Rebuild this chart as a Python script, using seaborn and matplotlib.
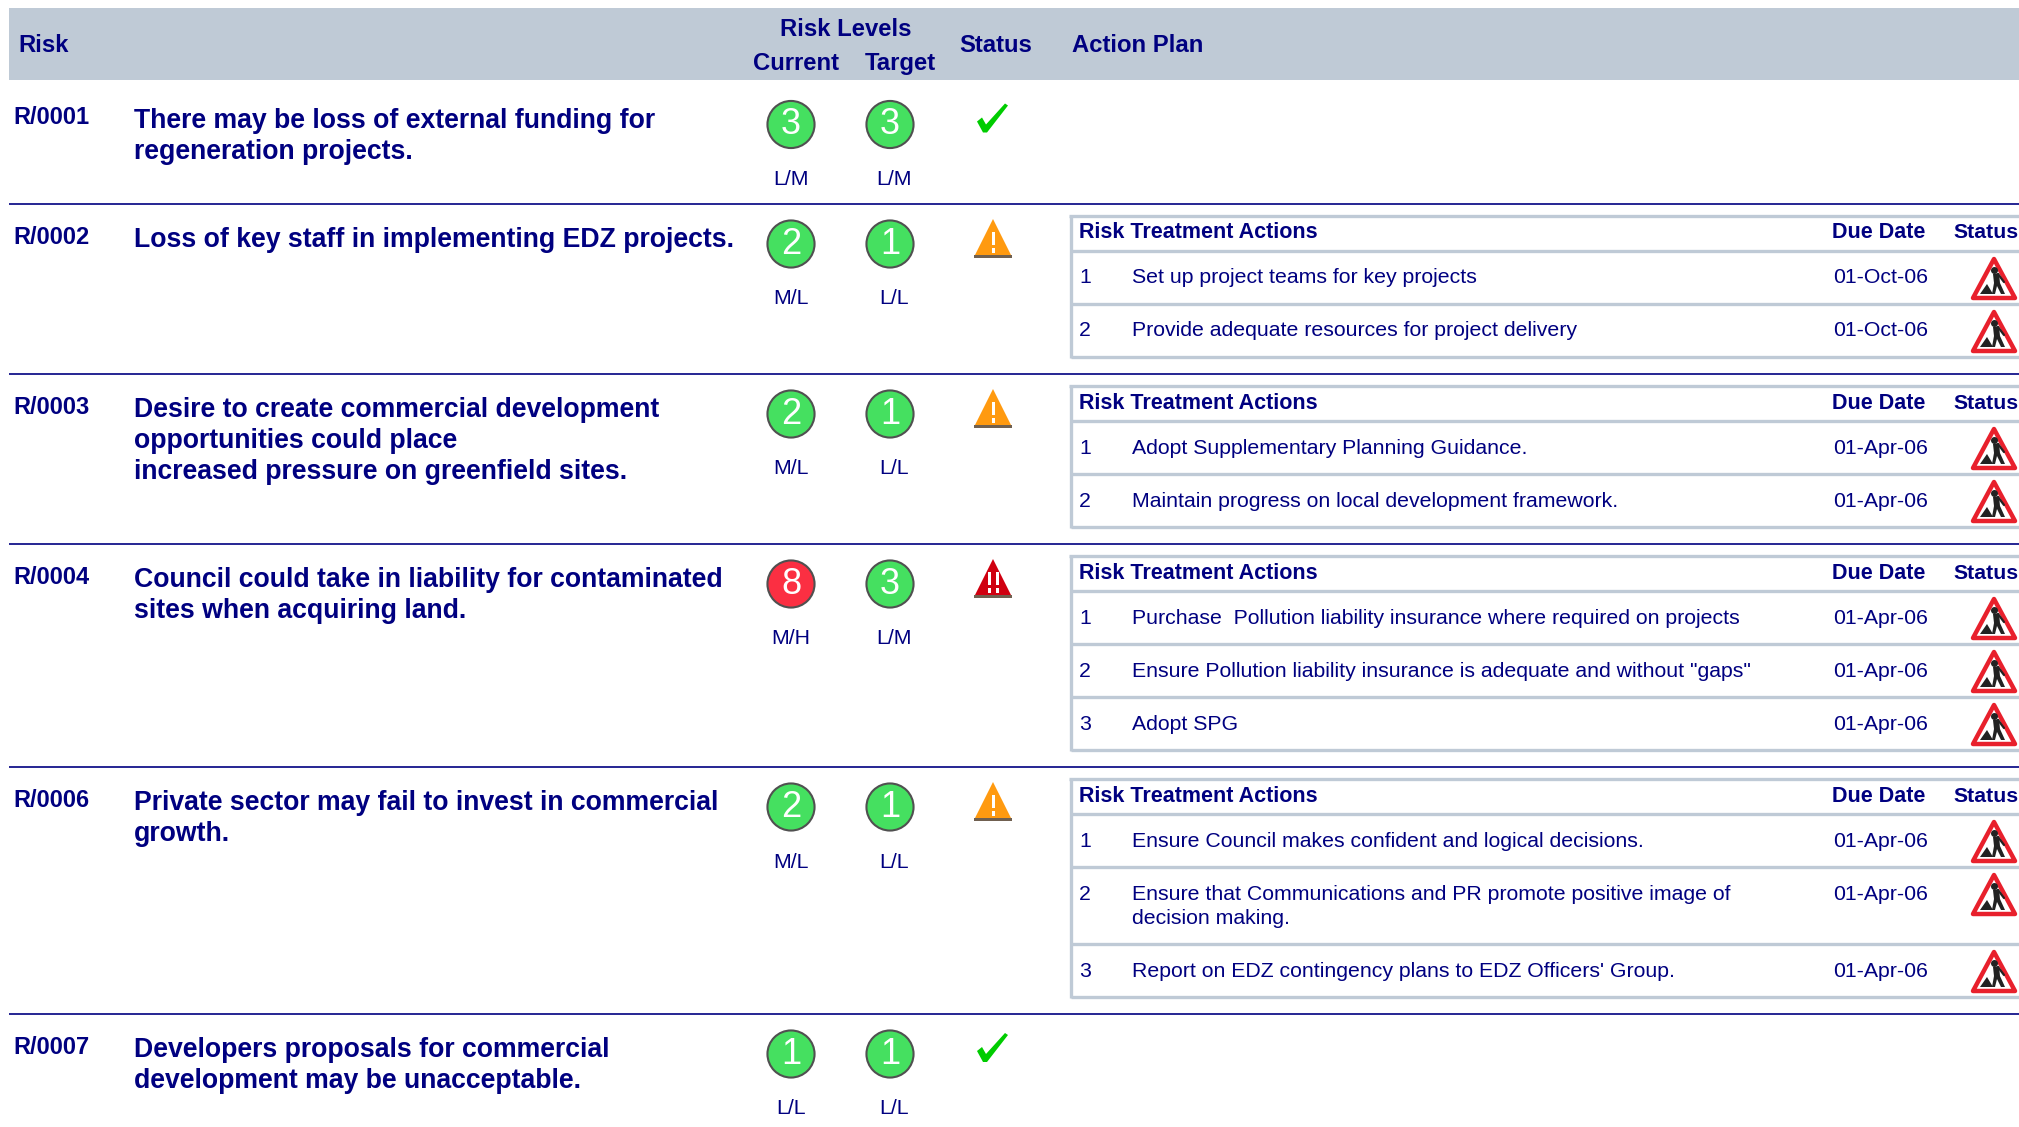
import pandas as pd
import matplotlib
matplotlib.use("Agg")
import matplotlib.pyplot as plt
import seaborn as sns
from matplotlib.patches import Polygon, Rectangle

NAVY = "#000080"
BAND = "#bfcad6"

risk_ids = ["R/0001", "R/0002", "R/0003", "R/0004", "R/0006", "R/0007"]
risk_titles = [
    "There may be loss of external funding for\nregeneration projects.",
    "Loss of key staff in implementing EDZ projects.",
    "Desire to create commercial development\nopportunities could place\nincreased pressure on greenfield sites.",
    "Council could take in liability for contaminated\nsites when acquiring land.",
    "Private sector may fail to invest in commercial\ngrowth.",
    "Developers proposals for commercial\ndevelopment may be unacceptable.",
]
current_score = [3, 2, 2, 8, 2, 1]
target_score = [3, 1, 1, 3, 1, 1]
current_level = ["L/M", "M/L", "M/L", "M/H", "M/L", "L/L"]
target_level = ["L/M", "L/L", "L/L", "L/M", "L/L", "L/L"]
risk_status = ["ok", "warn", "warn", "alert", "warn", "ok"]

actions = [
    [],
    ["Set up project teams for key projects",
     "Provide adequate resources for project delivery"],
    ["Adopt Supplementary Planning Guidance.",
     "Maintain progress on local development framework."],
    ["Purchase  Pollution liability insurance where required on projects",
     "Ensure Pollution liability insurance is adequate and without \"gaps\"",
     "Adopt SPG"],
    ["Ensure Council makes confident and logical decisions.",
     "Ensure that Communications and PR promote positive image of\ndecision making.",
     "Report on EDZ contingency plans to EDZ Officers' Group."],
    [],
]
due_dates = [
    [],
    ["01-Oct-06", "01-Oct-06"],
    ["01-Apr-06", "01-Apr-06"],
    ["01-Apr-06", "01-Apr-06", "01-Apr-06"],
    ["01-Apr-06", "01-Apr-06", "01-Apr-06"],
    [],
]

# layout, in pixels of the 2019x1127 page
row_tops = [84.5, 204, 374, 544, 767, 1014]
x_cur, x_tgt, x_status = 791, 890, 993
x_table = 1071
W = 2019

sns.set_theme(style="white")
plt.rcParams["font.family"] = ["Liberation Sans", "DejaVu Sans"]

fig = plt.figure(figsize=(20.19, 11.27), dpi=100)
ax = fig.add_axes([0, 0, 1, 1])
ax.set_xlim(0, W)
ax.set_ylim(1127, 0)
ax.axis("off")


def label(x, y, s, size=15.3, bold=False, ha="left", **kw):
    ax.text(x, y, s, fontsize=size, color=NAVY, ha=ha, va="baseline",
            fontweight="bold" if bold else "normal", **kw)


def warn_icon(top, fill, marks):
    y0, y1 = top + 15, top + 53
    ax.add_patch(Polygon([(x_status - 19, y1), (x_status + 19, y1), (x_status, y0)],
                         fc=fill, ec="none", zorder=3))
    ax.add_patch(Rectangle((x_status - 19, y1 - 2), 38, 3, fc="#706050", ec="none", zorder=4))
    for dx in marks:
        ax.add_patch(Rectangle((x_status + dx - 1.5, y1 - 25), 3.5, 13, fc="white", ec="none", zorder=5))
        ax.add_patch(Rectangle((x_status + dx - 1.5, y1 - 9), 3.5, 5, fc="white", ec="none", zorder=5))


def tick_icon(top):
    pts = [(977, 122), (982, 118), (986, 125), (1005, 104), (1008, 106), (987, 133), (983, 133)]
    ax.add_patch(Polygon([(x, y - 85 + top) for x, y in pts], fc="#00cc00", ec="none", zorder=3))


def work_sign(cy):
    cx = 1994
    dark = "#222222"
    ax.add_patch(Polygon([(cx - 21, cy + 20), (cx + 21, cy + 20), (cx, cy - 19)], fc="white",
                         ec="#e8202c", lw=3.2, joinstyle="round", zorder=3))
    # digger and his heap
    ax.add_patch(Polygon([(cx - 14, cy + 16), (cx - 1, cy + 16), (cx - 7, cy + 6)], fc=dark, ec="none", zorder=4))
    ax.add_patch(Polygon([(cx - 1, cy - 4), (cx + 5, cy - 5), (cx + 6, cy + 5), (cx + 11, cy + 16),
                          (cx + 7, cy + 16), (cx + 3, cy + 8), (cx + 1, cy + 16), (cx - 2, cy + 16),
                          (cx, cy + 5)], fc=dark, ec="none", zorder=4))
    ax.plot([cx + 4, cx + 10], [cy - 4, cy + 4], color=dark, lw=1.6, zorder=4)
    ax.plot([cx], [cy - 8], "o", color=dark, ms=4, zorder=4)


# page header band
ax.add_patch(Rectangle((9, 8), W - 9, 72, fc=BAND, ec="none", zorder=0))
label(18, 52, "Risk", 17.2, True)
label(846, 36, "Risk Levels", 17.2, True, ha="center")
label(796, 70, "Current", 17.2, True, ha="center")
label(900, 70, "Target", 17.2, True, ha="center")
label(996, 52, "Status", 17.2, True, ha="center")
label(1072, 52, "Action Plan", 17.2, True)

# score circles go through seaborn
circles = pd.DataFrame({
    "col": [x_cur] * 6 + [x_tgt] * 6,
    "row": [t + 40 for t in row_tops] * 2,
    "score": current_score + target_score,
})
circles["band"] = ["high" if s >= 8 else "low" for s in circles["score"]]
sns.scatterplot(data=circles, x="col", y="row", hue="band", ax=ax, s=1150, legend=False,
                palette={"low": "#45e060", "high": "#fb2f42"}, edgecolor="#505050",
                linewidth=1.5, zorder=3, clip_on=False)
ax.set_xlim(0, W)
ax.set_ylim(1127, 0)
ax.axis("off")
for _, c in circles.iterrows():
    ax.text(c["col"], c["row"] + 0.5, str(c["score"]), color="white", fontsize=26,
            ha="center", va="center", zorder=4)

for i, top in enumerate(row_tops):
    if i > 0:
        ax.hlines(top, 9, W, color=NAVY, lw=1.2)
    label(13, top + 40, risk_ids[i], 17, True)
    for j, line in enumerate(risk_titles[i].split("\n")):
        label(134, top + 43 + j * 31.2, line, 19.2, True)
    label(791, top + 100.5, current_level[i], 15.3, ha="center")
    label(894.5, top + 100.5, target_level[i], 15.3, ha="center")
    if risk_status[i] == "ok":
        tick_icon(top)
    elif risk_status[i] == "warn":
        warn_icon(top, "#ff9a10", [0])
    else:
        warn_icon(top, "#d00010", [-4, 4])

    if not actions[i]:
        continue
    # nested action table
    t0 = top + 12
    y = t0 + 35
    dy = 1 if i >= 2 else 0
    ax.hlines(t0, x_table - 2, W, color=BAND, lw=2.4)
    ax.hlines(y, x_table, W, color=BAND, lw=2.4)
    label(1079, t0 + 22 + dy, "Risk Treatment Actions", 15.5, True)
    label(1832, t0 + 22 + dy, "Due Date", 15.5, True)
    label(1953, t0 + 22 + dy, "Status", 15.3, True)
    for k, act in enumerate(actions[i]):
        lines = act.split("\n")
        h = 53 + (len(lines) - 1) * 24
        label(1079, y + 32 + dy, str(k + 1))
        for m, line in enumerate(lines):
            label(1132, y + 32 + dy + m * 24.5, line)
        label(1833, y + 32 + dy, due_dates[i][k])
        work_sign(y + 27)
        y += h
        ax.hlines(y, x_table, W, color=BAND, lw=2.4)
    ax.vlines(x_table - 0.5, t0, y + 1, color=BAND, lw=2.4)

fig.savefig("out.png", dpi=100, facecolor="white")
